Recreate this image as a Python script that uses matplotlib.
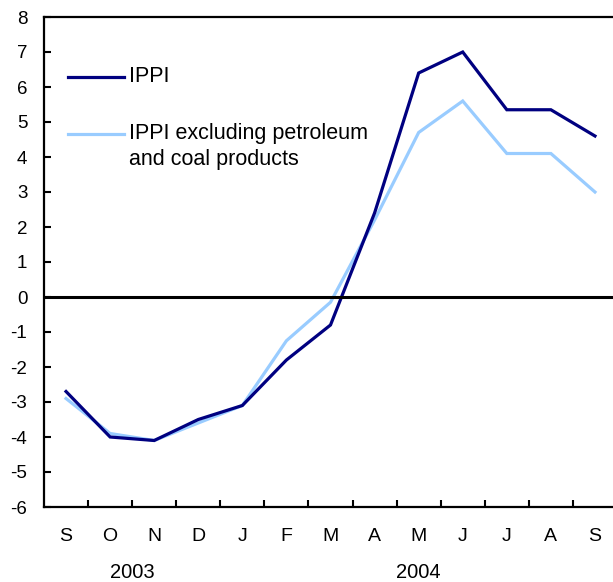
import matplotlib
matplotlib.use("Agg")
import matplotlib.pyplot as plt
from matplotlib.ticker import FixedLocator

plt.rcParams['font.family'] = ['Liberation Sans', 'DejaVu Sans']

months = ["S", "O", "N", "D", "J", "F", "M", "A", "M", "J", "J", "A", "S"]
years = ["2003", "2004"]
year_pos = [1.5, 8.0]
ippi = [-2.7, -4.0, -4.1, -3.5, -3.1, -1.8, -0.8, 2.4, 6.4, 7.0, 5.35, 5.35, 4.6]
ippi_ex = [-2.9, -3.9, -4.1, -3.6, -3.1, -1.25, -0.15, 2.2, 4.7, 5.6, 4.1, 4.1, 3.0]
labels = ["IPPI", "IPPI excluding petroleum\nand coal products"]
colors = ["#000080", "#99CCFF"]

W, H = 613, 582
fig = plt.figure(figsize=(W/100, H/100), dpi=100)
L, R, T, B = 44, 617, 17, 507
ax = fig.add_axes([L/W, 1 - B/H, (R-L)/W, (B-T)/H])

x = list(range(len(months)))
ax.plot(x, ippi, color=colors[0], lw=2.3, solid_joinstyle='miter', zorder=4)
ax.plot(x, ippi_ex, color=colors[1], lw=2.3, solid_joinstyle='miter', zorder=3)
ax.axhline(0, color='black', lw=2.2, zorder=5)

ax.set_xlim(-0.5, len(months) - 0.5)
ax.set_ylim(-6, 8)
ax.yaxis.set_major_locator(FixedLocator(range(-6, 9)))
ax.set_yticklabels([str(v) for v in range(-6, 9)])
ax.set_xticks(x)
ax.set_xticklabels(months)
ax.xaxis.set_minor_locator(FixedLocator([i + 0.5 for i in range(len(months) - 1)]))
ax.tick_params(axis='x', which='major', length=0, pad=15, labelsize=14)
ax.tick_params(axis='x', which='minor', direction='in', length=5, width=1.5)
ax.tick_params(axis='y', direction='in', length=5, width=1.5, pad=12, labelsize=13.5)

for s in ['left', 'bottom', 'top']:
    ax.spines[s].set_linewidth(1.6)
ax.spines['right'].set_visible(False)

for yr, xp in zip(years, year_pos):
    ax.text(xp, -(573 - B) / (B - T), yr, transform=ax.get_xaxis_transform(),
            ha='center', va='center', fontsize=14.5)

# legend (manual)
aw, ah = R - L, B - T
for lab, c, yp in zip(labels, colors, [77, 134]):
    ya = (B - yp) / ah
    ax.plot([(68-L)/aw, (124-L)/aw], [ya, ya], color=c, lw=2.3, transform=ax.transAxes)
ax.text((129-L)/aw, (B-77)/ah, labels[0], transform=ax.transAxes, va='center', ha='left', fontsize=15.5)
ax.text((129-L)/aw, (B-123)/ah, labels[1], transform=ax.transAxes, va='top', ha='left', fontsize=15.5, linespacing=1.3)

fig.savefig("out.png", dpi=100)
